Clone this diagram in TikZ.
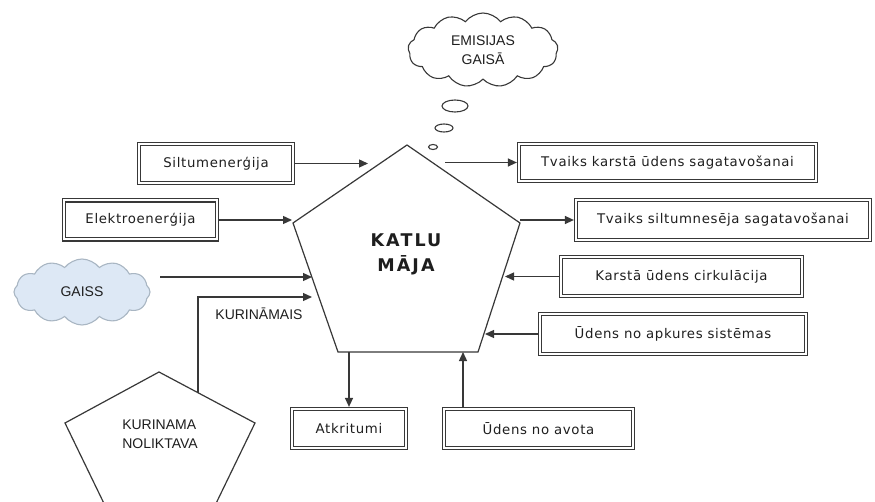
\documentclass[tikz,border=0pt]{standalone}
\usepackage{fontspec}
\usetikzlibrary{arrows.meta,shapes.symbols,shapes.geometric}
\newfontfamily\boxf{DejaVu Sans}[LetterSpace=5]
\newfontfamily\capf{Liberation Sans}
\newfontfamily\bigf{DejaVu Sans}[LetterSpace=12]
\definecolor{linec}{HTML}{383838}
\definecolor{txtc}{HTML}{1E1E1E}
\definecolor{skyf}{HTML}{DDE8F5}
\definecolor{skyd}{HTML}{A9B6C3}
\begin{document}
\begin{tikzpicture}[x=1pt,y=-1pt,
  dbox/.style={draw=linec, double=white, double distance=2pt, line width=1.1pt,
    minimum width=#1, minimum height=39pt, inner sep=0pt, outer sep=2.1pt,
    font=\boxf\fontsize{13.3}{16}\selectfont, text=txtc},
  flow/.style={draw=linec, line width=1.3pt, -{Triangle[length=9pt,width=8pt]}},
  shapeline/.style={draw=linec, line width=1.2pt, line join=miter},
  caps/.style={font=\capf\fontsize{14}{19}\selectfont, text=txtc},
  bubble/.style={ellipse, draw=linec, line width=1.1pt, inner sep=0pt}
]
\useasboundingbox (0,0) rectangle (875,502);

% main pentagon
\coordinate (pt) at (407,145);
\coordinate (pl) at (293,223);
\coordinate (pr) at (520,223);
\coordinate (pbr) at (478,352);
\coordinate (pbl) at (338,352);
\draw[shapeline, fill=white] (pt) -- (pr) -- (pbr) -- (pbl) -- (pl) -- cycle;
\node[font=\bigf\bfseries\fontsize{17.5}{25}\selectfont, text=txtc, align=center] (katlu) at (406,254) {KATLU\\MĀJA};

% storage pentagon
\coordinate (st) at (159,372);
\coordinate (sr) at (255,423);
\coordinate (sbr) at (208,520);
\coordinate (sbl) at (112,520);
\coordinate (sl) at (65,423);
\draw[shapeline, fill=white] (st) -- (sr) -- (sbr) -- (sbl) -- (sl) -- cycle;
\node[caps, align=left] (nolik) at (160,434) {KURINAMA\\NOLIKTAVA};

% clouds
\node[cloud, cloud puffs=13, cloud puff arc=105, aspect=2, draw=linec, fill=white, line width=1.1pt,
  minimum width=150pt, minimum height=74pt, inner sep=0pt, caps, align=center] (emis) at (483,50) {EMISIJAS\\GAISĀ};
\node[bubble, minimum width=26pt, minimum height=12pt] (b1) at (455,106) {};
\node[bubble, minimum width=18pt, minimum height=8pt] (b2) at (444,128) {};
\node[bubble, minimum width=9pt, minimum height=5pt] (b3) at (433,147) {};

\node[cloud, cloud puffs=12, cloud puff arc=105, aspect=2, draw=skyd, fill=skyf, line width=1.1pt,
  minimum width=136pt, minimum height=66pt, inner sep=0pt, caps] (gaiss) at (82,292) {GAISS};

% boxes
\node[dbox=154pt] (silt) at (216,163.5) {Siltumenerģija};
\node[dbox=153pt] (elek) at (140.5,220) {Elektroenerģija};
\node[dbox=297pt, minimum height=37pt] (tv1) at (667.5,162.5) {Tvaiks karstā ūdens sagatavošanai};
\node[dbox=294pt, minimum height=40pt] (tv2) at (723,220) {Tvaiks siltumnesēja sagatavošanai};
\node[dbox=241pt] (kar) at (681.5,276.5) {Karstā ūdens cirkulācija};
\node[dbox=266pt, minimum height=40pt] (apk) at (673,334) {Ūdens no apkures sistēmas};
\node[dbox=114pt] (atk) at (349,428.5) {Atkritumi};
\node[dbox=189pt] (avo) at (538.5,428.5) {Ūdens no avota};

% connector end points
\coordinate (siltend) at (368,163.5);
\coordinate (elekend) at (292,220);
\coordinate (gaisstart) at (160,277);
\coordinate (gaisend) at (312,277);
\coordinate (kstart) at (198,393);
\coordinate (kbend) at (198,297);
\coordinate (kend) at (312,297);
\coordinate (tv1start) at (445,162.5);
\coordinate (tv2start) at (520,220);
\coordinate (karend) at (505,276.5);
\coordinate (apkend) at (485,334);
\coordinate (atkstart) at (349,352);
\coordinate (avoend) at (463,352);

\draw[flow] (silt.east) -- (siltend);
\draw[flow] (elek.east) -- (elekend);
\draw[flow] (gaisstart) -- (gaisend);
\draw[flow] (kstart) -- (kbend) -- (kend);
\node[caps] (kurlab) at (259,314) {KURINĀMAIS};
\draw[flow] (tv1start) -- (tv1.west);
\draw[flow] (tv2start) -- (tv2.west);
\draw[flow] (kar.west) -- (karend);
\draw[flow] (apk.west) -- (apkend);
\draw[flow] (atkstart) -- (atk.north);
\draw[flow] (avoend |- avo.north) -- (avoend);
\end{tikzpicture}
\end{document}
